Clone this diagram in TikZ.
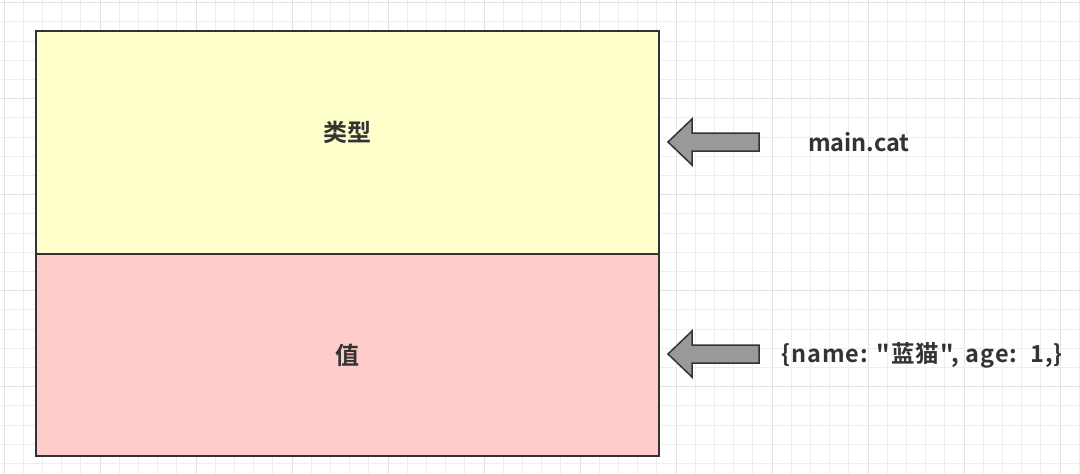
\documentclass[tikz,border=0pt]{standalone}
\usepackage{fontspec}
\newfontfamily\cjk{Noto Sans CJK SC Bold}
\newfontfamily\cjkwide{Noto Sans CJK SC Bold}[LetterSpace=4.5]
\definecolor{gridminor}{HTML}{EEEEEE}
\definecolor{gridmajor}{HTML}{E2E2E2}
\definecolor{boxline}{HTML}{333333}
\definecolor{typefill}{HTML}{FFFFCC}
\definecolor{valfill}{HTML}{FFCCCC}
\definecolor{arrowfill}{HTML}{999999}
\definecolor{txt}{HTML}{333333}
\tikzset{
  part/.style={draw=boxline, line width=2pt, minimum width=623pt, inner sep=0pt},
  parttext/.style={font=\cjk\fontsize{24}{28}\selectfont, text=txt, inner sep=0pt},
  blockarrow/.style={draw=boxline, fill=arrowfill, line width=1.5pt, line join=miter},
  label/.style={font=\cjk\fontsize{23.5}{28}\selectfont, text=txt, inner sep=0pt},
  widelabel/.style={font=\cjkwide\fontsize{23.5}{28}\selectfont, text=txt, inner sep=0pt},
}
\begin{document}
\begin{tikzpicture}[x=1pt,y=-1pt]
\useasboundingbox (0,0) rectangle (1080,474);
\fill[white] (0,0) rectangle (1080,474);
% grid
\foreach \i in {0,...,56} {
  \pgfmathsetmacro{\xx}{4+19.2*\i}
  \pgfmathtruncatemacro{\m}{mod(\i,5)}
  \ifnum\m=0 \draw[gridmajor, line width=1pt] (\xx,0) -- (\xx,474);
  \else \draw[gridminor, line width=0.8pt] (\xx,0) -- (\xx,474); \fi
}
\foreach \i in {0,...,24} {
  \pgfmathsetmacro{\yy}{2.5+19.2*\i}
  \pgfmathtruncatemacro{\m}{mod(\i,5)}
  \ifnum\m=0 \draw[gridmajor, line width=1pt] (0,\yy) -- (1080,\yy);
  \else \draw[gridminor, line width=0.8pt] (0,\yy) -- (1080,\yy); \fi
}
% boxes
\node[part, fill=typefill, minimum height=223pt, anchor=north west] (type) at (35,30) {};
\node[part, fill=valfill, minimum height=202pt, anchor=north west] (val) at (35,253) {};
\node[parttext] (typetext) at ([yshift=10pt]type.center) {类型};
\node[parttext] (valtext) at (val.center) {值};
% arrows
\coordinate (t1) at (668,142);
\draw[blockarrow] (t1) -- (692,119) -- (692,133) -- (759,133) -- (759,151) -- (692,151) -- (692,165) -- cycle;
\coordinate (t2) at (668,354);
\draw[blockarrow] (t2) -- (692,331) -- (692,345) -- (759,345) -- (759,363) -- (692,363) -- (692,377) -- cycle;
% labels
\node[label] (l1) at (859,142) {main.cat};
\node[widelabel] (l2) at (922,355) {\{name: "蓝猫", age:\ \ 1,\}};
\end{tikzpicture}
\end{document}
